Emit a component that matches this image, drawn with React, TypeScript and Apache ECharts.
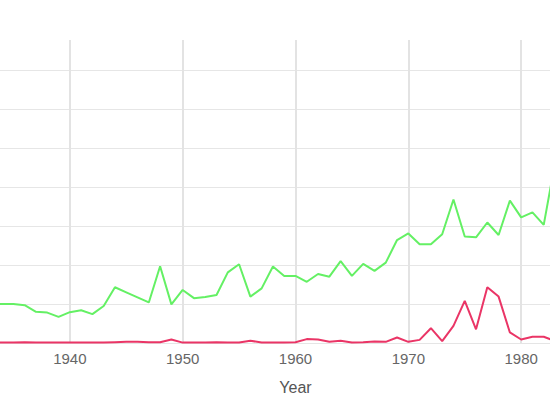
import React, { useEffect, useRef } from "react";
import * as echarts from "echarts";

const years = [
  1933, 1934, 1935, 1936, 1937, 1938, 1939, 1940, 1941, 1942, 1943, 1944, 1945, 1946, 1947, 1948,
  1949, 1950, 1951, 1952, 1953, 1954, 1955, 1956, 1957, 1958, 1959, 1960, 1961, 1962, 1963, 1964,
  1965, 1966, 1967, 1968, 1969, 1970, 1971, 1972, 1973, 1974, 1975, 1976, 1977, 1978, 1979, 1980,
  1981, 1982, 1983,
];

const greenValues = [
  10.0, 10.0, 10.0, 9.7, 8.0, 7.8, 6.7, 7.9, 8.4, 7.4, 9.5, 14.3, 13.0, 11.7, 10.4, 19.7,
  9.9, 13.6, 11.5, 11.8, 12.3, 18.1, 20.2, 11.9, 14.0, 19.6, 17.2, 17.2, 15.7, 17.7, 17.0, 21.0,
  17.2, 20.3, 18.5, 20.6, 26.4, 28.1, 25.3, 25.3, 27.9, 36.8, 27.3, 27.1, 30.9, 27.7, 36.5, 32.2,
  33.5, 30.3, 46.2,
];

const redValues = [
  0.1, 0.1, 0.1, 0.2, 0.1, 0.1, 0.1, 0.1, 0.1, 0.1, 0.1, 0.2, 0.3, 0.3, 0.2, 0.2,
  0.9, 0.1, 0.1, 0.1, 0.2, 0.1, 0.1, 0.6, 0.1, 0.1, 0.1, 0.2, 1.0, 0.9, 0.3, 0.6,
  0.1, 0.2, 0.4, 0.3, 1.4, 0.3, 0.8, 3.8, 0.5, 4.4, 10.8, 3.5, 14.3, 11.9, 2.7, 0.9,
  1.6, 1.6, 0.5,
];

const xAxisName = "Year";

const OFFSET = 60;
const INNER_W = 710;

export default function App() {
  const ref = useRef<HTMLDivElement>(null);
  useEffect(() => {
    if (!ref.current) return;
    const chart = echarts.init(ref.current, null, { renderer: "svg" });
    chart.setOption({
      animation: false,
      backgroundColor: "#ffffff",
      grid: {
        left: 17,
        top: 40,
        width: 677,
        height: 303,
        containLabel: false,
        outerBoundsMode: "none",
      },
      xAxis: {
        type: "value",
        min: 1930,
        max: 1990,
        interval: 10,
        name: xAxisName,
        nameLocation: "middle",
        nameGap: 36,
        nameTextStyle: { color: "#555", fontSize: 16, fontFamily: "Arial" },
        axisLine: { show: true, lineStyle: { color: "#e5e5e5", width: 1 } },
        axisTick: { show: false },
        axisLabel: {
          color: "#666",
          fontSize: 15,
          fontFamily: "Arial",
          margin: 8,
          formatter: (v: number) => (v > 1934 && v < 1986 ? String(v) : ""),
        },
        splitLine: { show: true, lineStyle: { color: "#e3e3e3", width: 2 } },
      },
      yAxis: {
        type: "value",
        min: 0,
        max: 77.7,
        interval: 10,
        axisLine: { show: false },
        axisTick: { show: false },
        axisLabel: { show: false },
        splitLine: {
          show: true,
          showMaxLine: false,
          lineStyle: { color: "#e6e6e6", width: 1 },
        },
      },
      series: [
        {
          type: "line",
          name: "green",
          data: years.map((y, i) => [y, greenValues[i]]),
          showSymbol: false,
          lineStyle: { color: "#64f064", width: 2 },
          itemStyle: { color: "#64f064" },
          z: 3,
        },
        {
          type: "line",
          name: "red",
          data: years.map((y, i) => [y, redValues[i]]),
          showSymbol: false,
          lineStyle: { color: "#ea3566", width: 2 },
          itemStyle: { color: "#ea3566" },
          z: 4,
        },
      ],
    });
    return () => chart.dispose();
  }, []);
  return (
    <div style={{ position: "absolute", left: 0, top: 0, width: 550, height: 412, overflow: "hidden", background: "#fff" }}>
      <div ref={ref} style={{ position: "absolute", left: -OFFSET, top: 0, width: INNER_W, height: 412 }} />
    </div>
  );
}
